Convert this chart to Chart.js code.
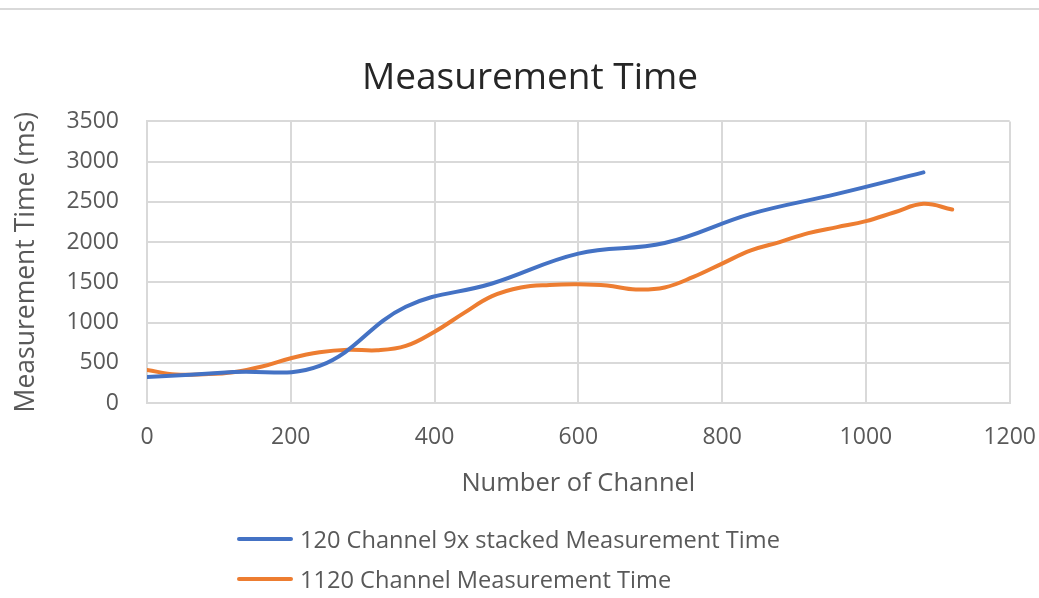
<!DOCTYPE html>
<html>
<head>
<meta charset="utf-8">
<script src="https://cdn.jsdelivr.net/npm/chart.js@4.4.0/dist/chart.umd.min.js"></script>
<style>
  html, body { margin: 0; padding: 0; background: #fff; }
  #wrap { position: relative; width: 1039px; height: 598px; overflow: hidden; }
  #topLine { position: absolute; left: 0; top: 8px; width: 1039px; height: 2px; background: #d9d9d9; }
  #legend { position: absolute; left: 237px; top: 519px; font-family: "Open Sans", sans-serif; font-size: 23.6px; color: #595959; }
  .item { height: 40px; display: flex; align-items: center; white-space: nowrap; }
  .swatch { display: inline-block; width: 56px; height: 4px; margin-right: 7px; border-radius: 2px; }
</style>
</head>
<body>
<div id="wrap">
  <div id="topLine"></div>
  <canvas id="myChart" width="1039" height="598"></canvas>
  <div id="legend"></div>
</div>
<script>
// Datos
const chartTitle = "Measurement Time";
const xTitle = "Number of Channel";
const yTitle = "Measurement Time (ms)";

const stackedLabel = "120 Channel 9x stacked Measurement Time";
const stackedX = [0, 120, 240, 360, 480, 600, 720, 840, 960, 1080];
const stackedY = [322, 385, 460, 1196, 1485, 1856, 1988, 2351, 2599, 2866];

const fullLabel = "1120 Channel Measurement Time";
const fullX = [0, 40, 80, 120, 160, 200, 240, 280, 320, 360, 400, 440, 480, 520, 560,
  600, 640, 680, 720, 760, 800, 840, 880, 920, 960, 1000, 1040, 1080, 1120];
const fullY = [410, 355, 358, 383, 453, 557, 631, 662, 655, 709, 886, 1114, 1328, 1436, 1468,
  1476, 1460, 1411, 1436, 1567, 1733, 1897, 2000, 2112, 2186, 2260, 2371, 2475, 2405];

const xTicks = [0, 200, 400, 600, 800, 1000, 1200];
const yTicks = [0, 500, 1000, 1500, 2000, 2500, 3000, 3500];

const FONT = '"Open Sans", sans-serif';
const gris = "#595959";
const rejilla = "#d9d9d9";

const grafica = document.getElementById("myChart").getContext("2d");

const myChart = new Chart(grafica, {
  type: "line",
  data: {
    datasets: [
      {
        label: stackedLabel,
        data: stackedX.map((x, i) => ({ x: x, y: stackedY[i] })),
        borderColor: "#4472c4",
        backgroundColor: "#4472c4",
        borderWidth: 4,
        pointRadius: 0,
        tension: 0.4,
        borderCapStyle: "round",
      },
      {
        label: fullLabel,
        data: fullX.map((x, i) => ({ x: x, y: fullY[i] })),
        borderColor: "#ed7d31",
        backgroundColor: "#ed7d31",
        borderWidth: 4,
        pointRadius: 0,
        tension: 0.4,
        borderCapStyle: "round",
      },
    ],
  },
  options: {
    responsive: false,
    animation: false,
    // el padding izquierdo desplaza el título hacia la derecha, como en el original
    layout: { padding: { left: 21, right: 0, top: 0, bottom: 99 } },
    plugins: {
      legend: { display: false },
      tooltip: { enabled: false },
      title: {
        display: true,
        text: chartTitle,
        color: "#262626",
        font: { family: FONT, size: 37, weight: "normal" },
        padding: { top: 56, bottom: 21 },
      },
    },
    scales: {
      x: {
        type: "linear",
        min: 0,
        max: 1200,
        afterBuildTicks: (axis) => { axis.ticks = xTicks.map((v) => ({ value: v })); },
        afterFit: (axis) => { axis.height = 96; },
        // marcas invisibles para bajar las etiquetas sin ensanchar el margen derecho
        grid: { color: rejilla, lineWidth: 2, drawTicks: true, tickLength: 18, tickColor: "transparent" },
        border: { color: rejilla, width: 2 },
        ticks: { color: gris, padding: 3, font: { family: FONT, size: 23 }, callback: (v) => String(v) },
        title: {
          display: true,
          text: xTitle,
          color: gris,
          font: { family: FONT, size: 25.5 },
          padding: { top: 0, bottom: 0 },
        },
      },
      y: {
        min: 0,
        max: 3500,
        afterBuildTicks: (axis) => { axis.ticks = yTicks.map((v) => ({ value: v })); },
        afterFit: (axis) => { axis.width = 126; },
        grid: { color: rejilla, lineWidth: 2, drawTicks: false },
        border: { color: rejilla, width: 2 },
        ticks: { color: gris, padding: 28, font: { family: FONT, size: 23 }, callback: (v) => String(v) },
        title: {
          display: true,
          text: yTitle,
          color: gris,
          font: { family: FONT, size: 26.5 },
          padding: { top: -10, bottom: 0 },
        },
      },
    },
  },
});

// Leyenda en HTML (vertical, alineada a la izquierda)
const legend = document.getElementById("legend");
for (const ds of myChart.data.datasets) {
  legend.innerHTML += `<div class="item"><span class="swatch" style="background:${ds.borderColor}"></span>${ds.label}</div>`;
}
</script>
</body>
</html>
